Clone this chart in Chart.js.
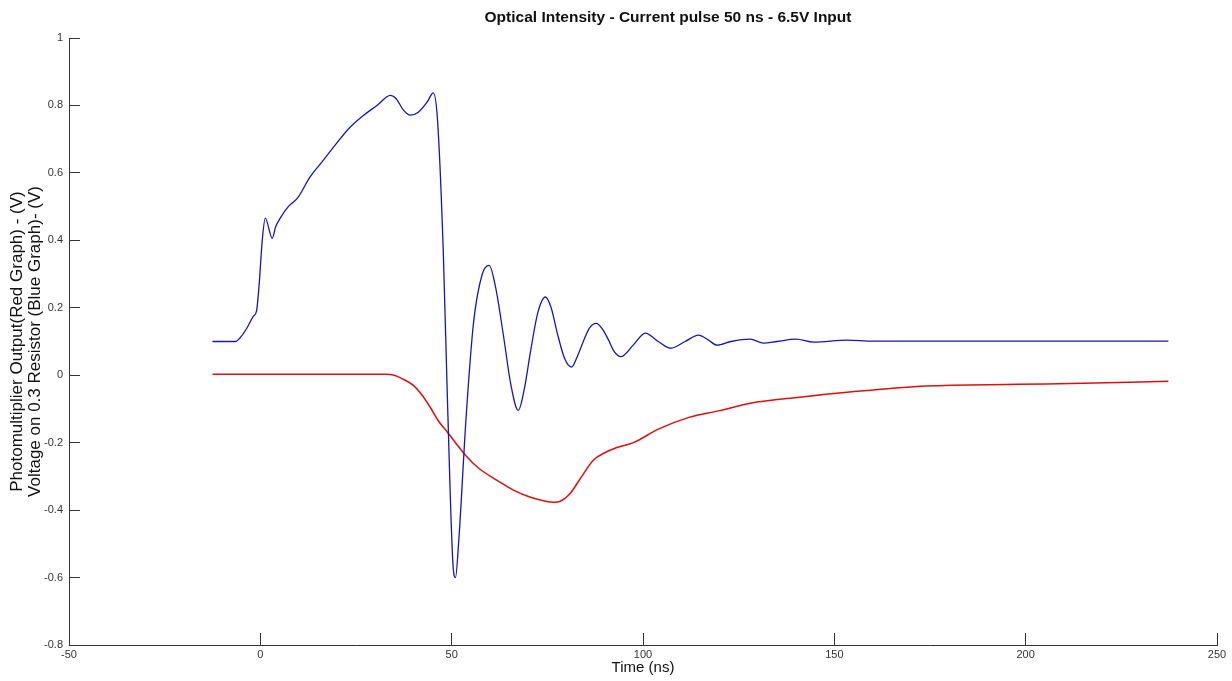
<!DOCTYPE html>
<html>
<head>
<meta charset="utf-8">
<script src="https://cdn.jsdelivr.net/npm/chart.js@4.4.1/dist/chart.umd.min.js"></script>
<style>
  html, body { margin: 0; padding: 0; background: #fff; }
  #wrap { width: 1232px; height: 681px; }
</style>
</head>
<body>
<div id="wrap"><canvas id="plot"></canvas></div>
<script>
// blue: voltage on 0.3 ohm resistor
var blueTime = [-12.5, -6.5, -5, -3.5, -1.8, -1, -0.3, 0.5, 1.3, 3.1, 4, 5.2, 7.3, 9.7, 13, 16.5, 20, 23.5, 27, 30.5, 34, 35.5, 37.4, 39.2, 41.3, 43.6, 45.2, 46.3, 47.8, 48.9, 50.4, 51, 51.8, 53.8, 55.7, 58, 59.8, 61.5, 63.5, 65.5, 67.4, 69, 70.6, 72.5, 74.5, 76, 77.6, 79.5, 81.3, 83, 84.4, 86, 87.8, 89.5, 91, 92.5, 94.2, 97.5, 100.6, 104, 107.2, 111, 114.5, 117, 119.4, 123, 128, 131.5, 135, 140, 144.6, 153.4, 160, 200, 237.3];
var blueVolt = [0.1, 0.1, 0.115, 0.14, 0.175, 0.19, 0.27, 0.4, 0.466, 0.406, 0.44, 0.466, 0.5, 0.525, 0.588, 0.638, 0.689, 0.736, 0.771, 0.8, 0.83, 0.82, 0.786, 0.771, 0.78, 0.81, 0.837, 0.757, 0.37, -0.074, -0.57, -0.6, -0.5, -0.12, 0.154, 0.3, 0.326, 0.26, 0.12, -0.03, -0.104, -0.04, 0.07, 0.185, 0.232, 0.2, 0.125, 0.05, 0.024, 0.06, 0.1, 0.14, 0.154, 0.135, 0.104, 0.07, 0.055, 0.09, 0.125, 0.1, 0.08, 0.1, 0.119, 0.105, 0.089, 0.1, 0.107, 0.095, 0.1, 0.107, 0.098, 0.104, 0.101, 0.101, 0.101];

// red: photomultiplier output
var redTime = [-12.5, 32.7, 35, 37, 40, 42, 44.4, 46.5, 48.9, 51, 53.6, 57, 61.9, 66, 70.6, 74, 77.1, 79, 81, 84, 87, 90, 93, 97.5, 104, 112, 120, 128, 141, 154, 174, 198, 215, 237.3];
var redVolt = [0.003, 0.003, 0, -0.01, -0.03, -0.055, -0.095, -0.135, -0.169, -0.2, -0.237, -0.275, -0.312, -0.34, -0.362, -0.372, -0.377, -0.37, -0.35, -0.3, -0.252, -0.23, -0.215, -0.2, -0.16, -0.125, -0.105, -0.083, -0.065, -0.05, -0.032, -0.027, -0.024, -0.018];

var xTicks = [-50, 0, 50, 100, 150, 200, 250];
var yTicks = [-0.8, -0.6, -0.4, -0.2, 0, 0.2, 0.4, 0.6, 0.8, 1];

function pairs(xs, ys) {
  return xs.map(function (x, i) { return { x: x, y: ys[i] }; });
}

var axisColor = '#333333';
var fontFam = 'Arial, "Liberation Sans", sans-serif';
var tickFont = { family: fontFam, size: 11 };

// the title in the picture sits a bit right of the axes centre
var titleShift = {
  id: 'titleShift',
  beforeDraw: function (c) {
    var s = c.scales.top;
    s.left = c.chartArea.left + 50;
    s.right = c.chartArea.right;
  }
};

var ctx = document.getElementById('plot').getContext('2d');
var chart = new Chart(ctx, {
  type: 'line',
  data: {
    datasets: [{
      label: 'Voltage on 0.3 Resistor',
      data: pairs(blueTime, blueVolt),
      borderColor: '#1515b8',
      borderWidth: 1.3,
      pointRadius: 0,
      cubicInterpolationMode: 'monotone',
      fill: false
    }, {
      label: 'Photomultiplier Output',
      data: pairs(redTime, redVolt),
      borderColor: '#dd1010',
      borderWidth: 1.5,
      pointRadius: 0,
      cubicInterpolationMode: 'monotone',
      fill: false
    }]
  },
  plugins: [titleShift],
  options: {
    responsive: true,
    maintainAspectRatio: false,
    animation: false,
    layout: { padding: { left: 0, right: 15, top: 0, bottom: 0 } },
    plugins: {
      legend: { display: false },
      tooltip: { enabled: false }
    },
    scales: {
      // top axis only carries the chart title
      top: {
        type: 'linear',
        position: 'top',
        min: -50,
        max: 250,
        afterFit: function (s) { s.height = 38; s.paddingLeft = 0; s.paddingRight = 0; },
        grid: { display: false },
        border: { display: false },
        ticks: { display: false },
        title: {
          display: true,
          text: 'Optical Intensity - Current pulse 50 ns - 6.5V Input',
          color: '#111',
          font: { family: fontFam, size: 15.5, weight: 'bold', lineHeight: 1.2 },
          padding: { top: 8, bottom: 0 }
        }
      },
      x: {
        type: 'linear',
        min: -50,
        max: 250,
        afterBuildTicks: function (s) { s.ticks = xTicks.map(function (v) { return { value: v }; }); },
        afterFit: function (s) { s.height = 36; s.paddingLeft = 0; s.paddingRight = 0; },
        grid: { drawOnChartArea: false, drawTicks: true, tickLength: -12, tickColor: axisColor },
        border: { display: true, color: axisColor, width: 1 },
        ticks: { color: '#333', font: tickFont, padding: 15, maxRotation: 0, autoSkip: false },
        title: {
          display: true,
          text: 'Time (ns)',
          color: '#111',
          font: { family: fontFam, size: 15, lineHeight: 1.2 },
          padding: { top: 0, bottom: 4 }
        }
      },
      y: {
        type: 'linear',
        min: -0.8,
        max: 1,
        afterBuildTicks: function (s) { s.ticks = yTicks.map(function (v) { return { value: v }; }); },
        afterFit: function (s) { s.width = 69; s.paddingTop = 0; s.paddingBottom = 0; },
        grid: { drawOnChartArea: false, drawTicks: true, tickLength: -11, tickColor: axisColor },
        border: { display: true, color: axisColor, width: 1 },
        ticks: {
          color: '#333', font: tickFont, padding: 17, autoSkip: false,
          callback: function (v) { return String(Number(v.toFixed(2))); }
        },
        title: {
          display: true,
          text: ['Photomultiplier Output(Red Graph) - (V)', 'Voltage on 0.3 Resistor (Blue Graph)- (V)'],
          color: '#111',
          font: { family: fontFam, size: 17, lineHeight: 1.03 },
          padding: { top: 9, bottom: 0 }
        }
      }
    }
  }
});
</script>
</body>
</html>
